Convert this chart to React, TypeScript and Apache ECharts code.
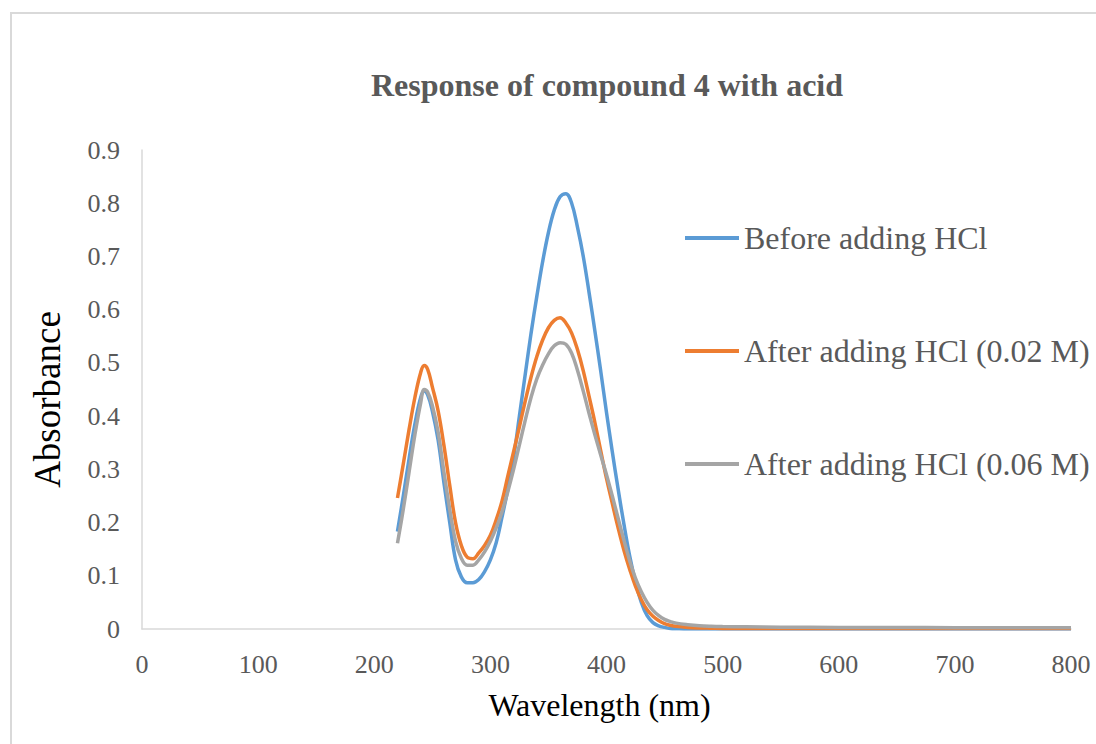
import React, { useEffect, useRef } from "react";
import * as echarts from "echarts";

const titleText = "Response of compound 4 with acid";
const xName = "Wavelength (nm)";
const yName = "Absorbance";
const seriesNames = ["Before adding HCl", "After adding HCl (0.02 M)", "After adding HCl (0.06 M)"];
const seriesColors = ["#5B9BD5", "#ED7D31", "#A5A5A5"];

const wavelengths = [
  220, 225, 230, 235, 240, 243, 246, 250,
  255, 260, 265, 270, 275, 280, 285, 290, 295, 300,
  305, 310, 315, 320, 325, 330, 335, 340, 345, 350,
  355, 360, 365, 370, 375, 380, 385, 390, 395, 400,
  405, 410, 415, 420, 425, 430, 435, 440, 445, 450,
  455, 460,
  470, 480, 490, 500, 520, 550, 600, 650, 700, 750, 800,
];

const beforeHCl = [
  0.183, 0.25, 0.32, 0.385, 0.435, 0.447, 0.44, 0.41,
  0.355, 0.275, 0.2, 0.13, 0.098, 0.087, 0.087, 0.093, 0.108, 0.13,
  0.162, 0.21, 0.262, 0.322, 0.4, 0.478, 0.555, 0.625, 0.69, 0.745,
  0.787, 0.812, 0.818, 0.8, 0.755, 0.7, 0.632, 0.56, 0.485, 0.407,
  0.333, 0.263, 0.197, 0.137, 0.088, 0.05, 0.025, 0.012, 0.006, 0.003,
  0.001, 0.0005,
  0, 0, 0, 0, 0, 0, 0, 0, 0, 0, 0,
];

const hcl002 = [
  0.246, 0.31, 0.375, 0.435, 0.482, 0.495, 0.488, 0.455,
  0.41, 0.345, 0.27, 0.2, 0.157, 0.135, 0.132, 0.143, 0.157, 0.176,
  0.205, 0.24, 0.287, 0.333, 0.38, 0.428, 0.473, 0.512, 0.543, 0.566,
  0.58, 0.585, 0.575, 0.556, 0.525, 0.485, 0.437, 0.388, 0.335, 0.283,
  0.236, 0.19, 0.148, 0.112, 0.08, 0.055, 0.036, 0.024, 0.016, 0.01,
  0.007, 0.005,
  0.003, 0.002, 0.0015, 0.001, 0.001, 0.001, 0.001, 0.001, 0.001, 0.001, 0.001,
];

const hcl006 = [
  0.161, 0.225, 0.295, 0.365, 0.425, 0.45, 0.445, 0.42,
  0.37, 0.295, 0.225, 0.165, 0.133, 0.12, 0.12, 0.13, 0.145, 0.165,
  0.19, 0.22, 0.258, 0.3, 0.346, 0.392, 0.435, 0.47, 0.496, 0.517,
  0.532, 0.538, 0.535, 0.518, 0.486, 0.447, 0.405, 0.365, 0.327, 0.29,
  0.25, 0.208, 0.167, 0.128, 0.095, 0.07, 0.05, 0.035, 0.025, 0.018,
  0.014, 0.011,
  0.008, 0.006, 0.005, 0.0045, 0.004, 0.0035, 0.003, 0.003, 0.0025, 0.0025, 0.0025,
];

const seriesValues = [beforeHCl, hcl002, hcl006];

export default function App() {
  const ref = useRef<HTMLDivElement>(null);

  useEffect(() => {
    if (!ref.current) return;
    const chart = echarts.init(ref.current, null, { renderer: "svg" });
    const serif = "'Liberation Serif', 'Times New Roman', serif";
    chart.setOption({
      animation: false,
      backgroundColor: "#ffffff",
      title: {
        text: titleText,
        left: 602,
        top: 64,
        textAlign: "center",
        textStyle: { fontFamily: serif, fontSize: 32, fontWeight: "bold", color: "#595959" },
      },
      legend: {
        orient: "vertical",
        left: 680,
        top: 217,
        icon: "rect",
        itemWidth: 54,
        itemHeight: 4,
        itemGap: 81,
        data: seriesNames,
        textStyle: { fontFamily: serif, fontSize: 32, color: "#595959", lineHeight: 32 },
      },
      graphic: [
        {
          type: "rect",
          silent: true,
          shape: { x: 11, y: 13, width: 1200, height: 900 },
          style: { fill: "none", stroke: "#d9d9d9", lineWidth: 2 },
        },
      ],
      grid: { left: 142, right: 25, top: 150, bottom: 115 },
      xAxis: {
        type: "value",
        min: 0,
        max: 800,
        interval: 100,
        name: xName,
        nameLocation: "middle",
        nameGap: 60,
        nameTextStyle: { fontFamily: serif, fontSize: 32, color: "#000000", padding: [0, 14, 0, 0] },
        axisLine: { show: true, lineStyle: { color: "#d9d9d9", width: 1.5 } },
        axisTick: { show: false },
        splitLine: { show: false },
        axisLabel: { fontFamily: serif, fontSize: 26, color: "#595959", margin: 22 },
      },
      yAxis: {
        type: "value",
        min: 0,
        max: 0.9,
        interval: 0.1,
        name: yName,
        nameLocation: "middle",
        nameGap: 76,
        nameTextStyle: { fontFamily: serif, fontSize: 37, color: "#000000", padding: [0, 20, 0, 0] },
        axisLine: { show: true, lineStyle: { color: "#d9d9d9", width: 1.5 } },
        axisTick: { show: false },
        splitLine: { show: false },
        axisLabel: {
          fontFamily: serif,
          fontSize: 26,
          color: "#595959",
          margin: 22,
          formatter: (v: number) => (v === 0 ? "0" : v.toFixed(1)),
        },
      },
      series: seriesNames.map((name, i) => ({
        name,
        type: "line",
        smooth: 0.4,
        symbol: "none",
        showSymbol: false,
        color: seriesColors[i],
        lineStyle: { color: seriesColors[i], width: 3.5 },
        data: wavelengths.map((w, j) => [w, seriesValues[i][j]]),
      })),
    });
    return () => chart.dispose();
  }, []);

  return (
    <div
      ref={ref}
      style={{ position: "fixed", left: 0, top: 0, width: 1096, height: 744, background: "#fff" }}
    />
  );
}
